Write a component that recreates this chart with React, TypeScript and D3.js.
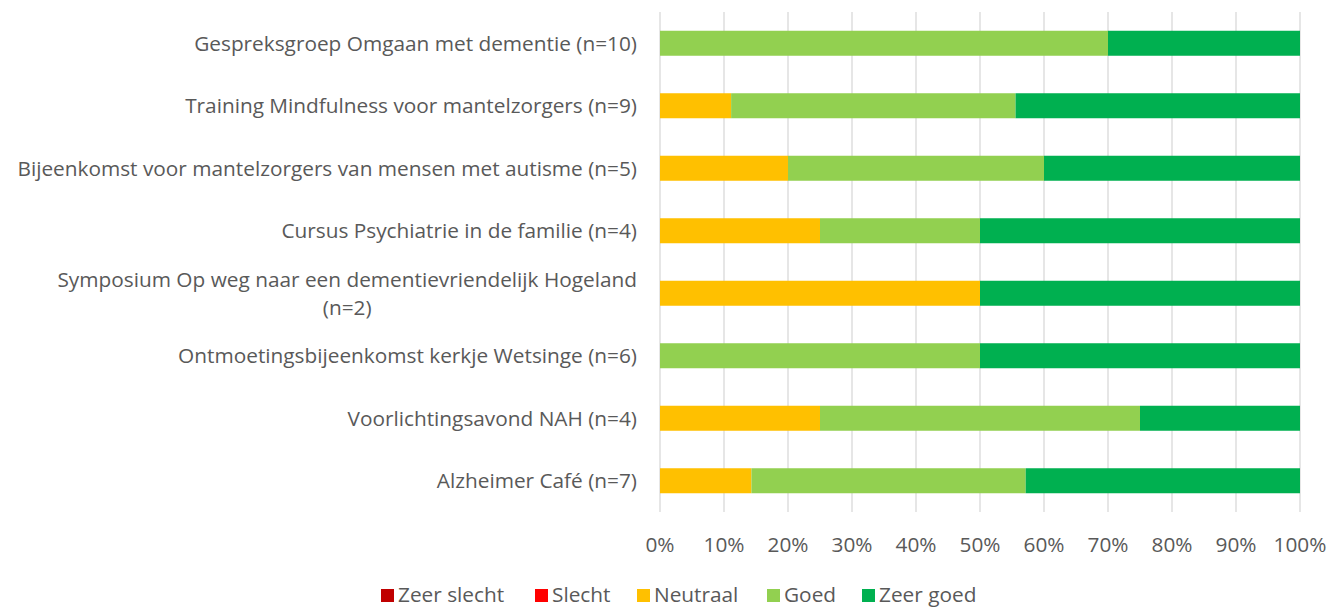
import React, { useEffect, useRef } from "react";
import * as d3 from "d3";

const categories = [
  "Gespreksgroep Omgaan met dementie (n=10)",
  "Training Mindfulness voor mantelzorgers (n=9)",
  "Bijeenkomst voor mantelzorgers van mensen met autisme (n=5)",
  "Cursus Psychiatrie in de familie (n=4)",
  "Symposium Op weg naar een dementievriendelijk Hogeland|(n=2)",
  "Ontmoetingsbijeenkomst kerkje Wetsinge (n=6)",
  "Voorlichtingsavond NAH (n=4)",
  "Alzheimer Café (n=7)",
];

const seriesNames = ["Zeer slecht", "Slecht", "Neutraal", "Goed", "Zeer goed"];
const seriesColors = ["#C00000", "#FF0000", "#FFC000", "#92D050", "#00B050"];

// answer counts per category
const zeerSlecht = [0, 0, 0, 0, 0, 0, 0, 0];
const slecht = [0, 0, 0, 0, 0, 0, 0, 0];
const neutraal = [0, 1, 1, 1, 1, 0, 1, 1];
const goed = [7, 4, 2, 1, 0, 3, 2, 3];
const zeerGoed = [3, 4, 2, 2, 1, 3, 1, 3];

const tickValues = [0, 0.1, 0.2, 0.3, 0.4, 0.5, 0.6, 0.7, 0.8, 0.9, 1];

const W = 1329;
const H = 607;

export default function App() {
  const ref = useRef<SVGSVGElement>(null);

  useEffect(() => {
    const svg = d3.select(ref.current);
    svg.selectAll("*").remove();

    const font = "'Open Sans', sans-serif";
    const fs = 20.8;
    const textColor = "#595959";
    const margin = { top: 12, right: 29, bottom: 95, left: 660 };

    const rows = categories.map((c, i) => {
      const vals = [zeerSlecht[i], slecht[i], neutraal[i], goed[i], zeerGoed[i]];
      const total = d3.sum(vals);
      const obj: any = { cat: c };
      seriesNames.forEach((s, j) => (obj[s] = vals[j] / total));
      return obj;
    });

    const stack = d3.stack().keys(seriesNames)(rows);

    const x = d3.scaleLinear().domain([0, 1]).range([margin.left, W - margin.right]);
    const y = d3
      .scaleBand()
      .domain(categories)
      .range([margin.top, H - margin.bottom])
      .paddingInner(0.6)
      .paddingOuter(0.3);

    const plotBottom = H - margin.bottom;

    // gridlines
    svg
      .append("g")
      .selectAll("line")
      .data(tickValues)
      .join("line")
      .attr("x1", (d) => x(d))
      .attr("x2", (d) => x(d))
      .attr("y1", margin.top)
      .attr("y2", plotBottom)
      .attr("stroke", "#d9d9d9")
      .attr("stroke-width", 1.3);

    // bars
    svg
      .append("g")
      .selectAll("g")
      .data(stack)
      .join("g")
      .attr("fill", (_, i) => seriesColors[i])
      .selectAll("rect")
      .data((d) => d)
      .join("rect")
      .attr("x", (d) => x(d[0]))
      .attr("width", (d) => x(d[1]) - x(d[0]))
      .attr("y", (d: any) => y(d.data.cat)!)
      .attr("height", y.bandwidth());

    // x tick labels
    svg
      .append("g")
      .selectAll("text")
      .data(tickValues)
      .join("text")
      .attr("x", (d) => x(d))
      .attr("y", 545)
      .attr("dy", "0.35em")
      .attr("text-anchor", "middle")
      .attr("font-family", font)
      .attr("font-size", fs)
      .attr("fill", textColor)
      .text((d) => d3.format(".0%")(d));

    // category labels
    const labelG = svg.append("g");
    categories.forEach((c) => {
      const lines = c.split("|");
      const cy = y(c)! + y.bandwidth() / 2;
      if (lines.length === 1) {
        labelG
          .append("text")
          .attr("x", 637)
          .attr("y", cy)
          .attr("dy", "0.35em")
          .attr("text-anchor", "end")
          .attr("font-family", font)
          .attr("font-size", fs)
          .attr("fill", textColor)
          .text(c);
      } else {
        const first = labelG
          .append("text")
          .attr("x", 637)
          .attr("y", cy - 14)
          .attr("dy", "0.35em")
          .attr("text-anchor", "end")
          .attr("font-family", font)
          .attr("font-size", fs)
          .attr("fill", textColor)
          .text(lines[0]);
        const w = (first.node() as SVGTextElement).getComputedTextLength();
        labelG
          .append("text")
          .attr("x", 637 - w / 2)
          .attr("y", cy + 14)
          .attr("dy", "0.35em")
          .attr("text-anchor", "middle")
          .attr("font-family", font)
          .attr("font-size", fs)
          .attr("fill", textColor)
          .text(lines[1]);
      }
    });

    // legend
    const legendXs = [381, 535, 637, 767, 862];
    const legend = svg.append("g");
    seriesNames.forEach((s, i) => {
      legend
        .append("rect")
        .attr("x", legendXs[i])
        .attr("y", 589)
        .attr("width", 13)
        .attr("height", 13)
        .attr("fill", seriesColors[i]);
      legend
        .append("text")
        .attr("x", legendXs[i] + 17)
        .attr("y", 595)
        .attr("dy", "0.35em")
        .attr("font-family", font)
        .attr("font-size", fs)
        .attr("fill", textColor)
        .text(s);
    });
  }, []);

  return (
    <svg
      ref={ref}
      width={W}
      height={H}
      style={{ position: "absolute", left: 0, top: 0, background: "#fff" }}
    />
  );
}
